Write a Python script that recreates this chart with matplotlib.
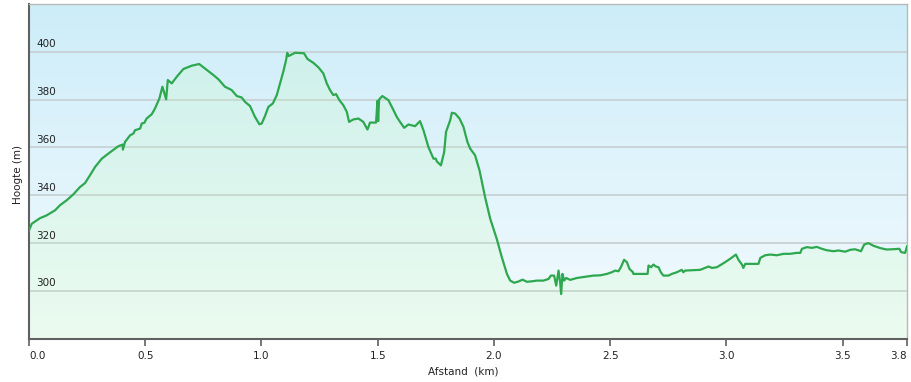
import numpy as np
import matplotlib
matplotlib.use("Agg")
import matplotlib.pyplot as plt
import matplotlib.transforms as mtransforms

dist_km = [
    0.000, 0.012, 0.047, 0.076, 0.112, 0.133, 0.162, 0.191, 0.219, 0.241,
    0.262, 0.284, 0.313, 0.341, 0.384, 0.403, 0.404, 0.413, 0.435, 0.449,
    0.456, 0.478, 0.485, 0.496, 0.506, 0.528, 0.542, 0.561, 0.574, 0.590,
    0.597, 0.614, 0.636, 0.664, 0.700, 0.732, 0.765, 0.793, 0.815, 0.843,
    0.872, 0.894, 0.915, 0.929, 0.951, 0.972, 0.991, 1.001, 1.015, 1.030,
    1.049, 1.066, 1.080, 1.094, 1.106, 1.111, 1.116, 1.145, 1.183, 1.198,
    1.223, 1.245, 1.266, 1.281, 1.295, 1.309, 1.321, 1.335, 1.352, 1.367,
    1.377, 1.395, 1.417, 1.438, 1.456, 1.467, 1.493, 1.499, 1.502, 1.506,
    1.510, 1.520, 1.546, 1.568, 1.582, 1.596, 1.614, 1.632, 1.661, 1.682,
    1.697, 1.718, 1.740, 1.750, 1.754, 1.772, 1.786, 1.794, 1.812, 1.819,
    1.833, 1.852, 1.869, 1.886, 1.898, 1.919, 1.938, 1.962, 1.984, 2.012,
    2.034, 2.056, 2.070, 2.087, 2.105, 2.123, 2.142, 2.163, 2.185, 2.213,
    2.235, 2.245, 2.259, 2.268, 2.278, 2.285, 2.289, 2.295, 2.302, 2.311,
    2.328, 2.357, 2.400, 2.428, 2.457, 2.486, 2.507, 2.522, 2.536, 2.546,
    2.560, 2.572, 2.583, 2.598, 2.600, 2.661, 2.665, 2.676, 2.686, 2.697,
    2.708, 2.718, 2.729, 2.751, 2.765, 2.787, 2.808, 2.815, 2.823, 2.887,
    2.923, 2.938, 2.959, 2.988, 3.016, 3.041, 3.052, 3.067, 3.073, 3.081,
    3.138, 3.146, 3.167, 3.188, 3.217, 3.246, 3.274, 3.303, 3.318, 3.325,
    3.346, 3.368, 3.389, 3.411, 3.432, 3.461, 3.482, 3.511, 3.533, 3.554,
    3.579, 3.593, 3.611, 3.632, 3.662, 3.690, 3.712, 3.744, 3.752, 3.769,
    3.777,
]
elev_m = [
    325.3, 328.1, 330.4, 331.6, 333.7, 335.8, 337.9, 340.4, 343.4, 345.1,
    348.3, 351.8, 355.3, 357.4, 360.5, 361.2, 359.1, 362.3, 365.1, 365.8,
    367.2, 367.9, 370.0, 370.3, 372.1, 373.9, 376.3, 380.5, 385.4, 380.1,
    388.2, 386.8, 389.6, 392.8, 394.2, 394.9, 392.4, 390.3, 388.5, 385.4,
    384.0, 381.5, 380.9, 379.1, 377.3, 372.8, 369.7, 370.0, 373.1, 377.0,
    378.4, 381.9, 386.8, 391.7, 396.6, 399.6, 398.2, 399.6, 399.4, 397.0,
    395.4, 393.5, 391.0, 386.8, 384.0, 381.9, 382.3, 379.8, 377.7, 374.9,
    370.7, 371.7, 372.1, 370.7, 367.5, 370.4, 370.4, 379.5, 371.0, 380.0,
    380.5, 381.5, 379.8, 375.6, 372.8, 370.7, 368.2, 369.6, 368.9, 371.0,
    367.2, 360.2, 355.3, 355.3, 354.2, 352.5, 358.1, 366.5, 371.4, 374.5,
    374.2, 372.1, 368.6, 362.3, 359.5, 356.7, 350.4, 339.2, 330.2, 321.8,
    314.1, 307.1, 304.3, 303.4, 303.9, 304.7, 303.8, 304.0, 304.3, 304.3,
    305.0, 306.4, 306.4, 302.2, 308.5, 303.6, 298.7, 307.1, 304.3, 305.4,
    304.6, 305.4, 306.0, 306.4, 306.5, 307.1, 307.8, 308.5, 308.2, 309.9,
    313.0, 312.0, 309.2, 307.8, 307.1, 307.1, 310.6, 309.9, 311.0, 310.2,
    309.9, 307.8, 306.4, 306.4, 307.1, 307.8, 308.8, 307.8, 308.5, 308.8,
    310.2, 309.6, 309.9, 311.6, 313.4, 315.2, 313.0, 311.0, 309.6, 311.3,
    311.3, 313.8, 314.9, 315.2, 314.9, 315.5, 315.5, 315.9, 315.9, 317.6,
    318.3, 318.0, 318.4, 317.6, 317.0, 316.6, 316.9, 316.4, 317.2, 317.4,
    316.6, 319.4, 320.0, 318.9, 317.9, 317.3, 317.4, 317.6, 316.2, 315.9,
    318.6,
]

y_ticks = [300, 320, 340, 360, 380, 400]
x_ticks = [0.0, 0.5, 1.0, 1.5, 2.0, 2.5, 3.0, 3.5]
x_end = 3.777
x_tick_labels = ["0.0", "0.5", "1.0", "1.5", "2.0", "2.5", "3.0", "3.5", "3.8"]
y_min, y_max = 280, 420

W, H = 912, 382
fig = plt.figure(figsize=(W / 100, H / 100), dpi=100)
fig.patch.set_facecolor("white")
ax = fig.add_axes([29 / W, (H - 338.7) / H, (907 - 29) / W, (338.7 - 4) / H])

ax.set_xlim(0, x_end)
ax.set_ylim(y_min, y_max)

# vertical background gradient (light blue top -> almost white bottom)
top = np.array([205, 237, 249]) / 255
bot = np.array([244, 251, 254]) / 255
t = np.linspace(0, 1, 256)[:, None]
grad = (top[None, :] * (1 - t) + bot[None, :] * t)[:, None, :]
ax.imshow(grad, extent=[0, x_end, y_min, y_max], aspect="auto",
          origin="upper", zorder=0, interpolation="bilinear")

# gridlines
for v in y_ticks:
    ax.axhline(v, color="#c8d2d6", lw=1.3, zorder=1)

# filled area and profile line
ax.fill_between(dist_km, elev_m, y_min, color="#bfffa1", alpha=0.15,
                lw=0, zorder=2)
ax.plot(dist_km, elev_m, color="#2ea84f", lw=1.6, zorder=3,
        solid_joinstyle="round")

# spines
for s in ["top", "right"]:
    ax.spines[s].set_color("#b8b8b8")
    ax.spines[s].set_linewidth(1.0)
for s in ["left", "bottom"]:
    ax.spines[s].set_color("#606060")
    ax.spines[s].set_linewidth(1.5)

# y tick labels drawn inside the plot, above gridlines
ax.set_yticks([])
off = mtransforms.ScaledTranslation(7 / 100, 2.5 / 100, fig.dpi_scale_trans)
trans = mtransforms.blended_transform_factory(ax.transAxes, ax.transData) + off
for v in y_ticks:
    ax.text(0, v, str(v), transform=trans, ha="left", va="bottom",
            fontsize=7.5, color="#222222", family="DejaVu Sans", zorder=4)

# x ticks
ax.set_xticks(x_ticks + [x_end])
ax.set_xticklabels(x_tick_labels, fontsize=7.5, color="#222222")
ax.tick_params(axis="x", direction="out", length=5, width=1.2,
               color="#606060", pad=4)
labels = ax.get_xticklabels()
labels[0].set_ha("left")
labels[-1].set_ha("right")

fig.text(463 / W, 1 - 372 / H, "Afstand  (km)", ha="center", va="center",
         fontsize=7.5, color="#222222")
fig.text(18 / W, 1 - 174 / H, "Hoogte (m)", ha="center", va="center",
         rotation=90, fontsize=7.5, color="#222222")

fig.savefig("out.png", dpi=100)
